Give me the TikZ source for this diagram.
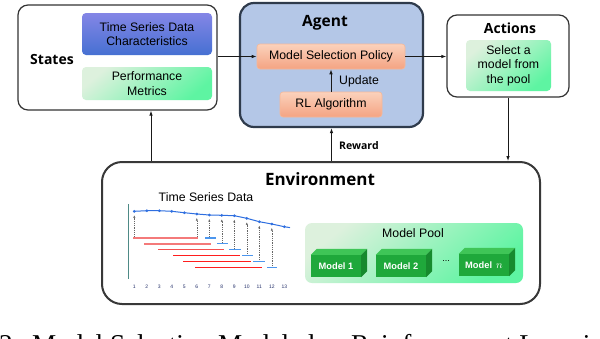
\documentclass[tikz,border=0pt]{standalone}
\usepackage{fontspec}
\setmainfont{Liberation Sans}
\newfontfamily\headfont{Open Sans}
\newfontfamily\capfont{Liberation Serif}
\usetikzlibrary{arrows.meta,calc}
\definecolor{agentfill}{HTML}{B4C7E7}
\definecolor{agentborder}{HTML}{2F3B4C}
\definecolor{tsblueA}{HTML}{8486E6}
\definecolor{tsblueB}{HTML}{4670D2}
\definecolor{grnA}{HTML}{DDF1DD}
\definecolor{grnM}{HTML}{82D890}
\definecolor{grnB}{HTML}{5EF4A2}
\definecolor{orA}{HTML}{FBD2BC}
\definecolor{orB}{HTML}{F4A382}
\definecolor{orD}{HTML}{F6B898}
\definecolor{lineblue}{HTML}{2F6FE0}
\definecolor{barblue}{HTML}{4C96EE}
\definecolor{redA}{HTML}{F47A7A}
\definecolor{redM}{HTML}{F55050}
\definecolor{redB}{HTML}{FF1E1E}
\definecolor{axisc}{HTML}{4E8A86}
\definecolor{numc}{HTML}{24306A}
\definecolor{mfront}{HTML}{1FA83B}
\definecolor{mtop}{HTML}{3FC557}
\definecolor{mside}{HTML}{178A2E}
\tikzset{
  outerbox/.style={draw=black!80, line width=1.2pt, rounded corners=10pt, fill=white, inner sep=0pt},
  agentbox/.style={draw=agentborder, line width=2.2pt, fill=agentfill, rounded corners=14pt, inner sep=0pt},
  envbox/.style={draw=black!78, line width=2pt, rounded corners=20pt, fill=white, inner sep=0pt},
  lbl/.style={font=\fontsize{12.3}{14.5}\selectfont, align=center, inner sep=0pt},
  bluebox/.style={lbl, rounded corners=4pt, top color=tsblueA, bottom color=tsblueB},
  greenbox/.style={lbl, rounded corners=4pt, top color=grnA, middle color=grnM, bottom color=grnB, shading angle=40},
  orangebox/.style={lbl, rounded corners=3pt, top color=orA, bottom color=orB, draw=orD, line width=0.6pt},
  head/.style={font=\headfont\bfseries\fontsize{14}{16}\selectfont, inner sep=0pt},
  arr/.style={line width=0.9pt, draw=black!90, -{Latex[length=5pt,width=3.6pt]}},
  darr/.style={dash pattern=on 1pt off 0.8pt, line width=0.4pt, draw=black!60, -{Latex[length=2.6pt,width=2.2pt]}},
  trainA/.style={draw=redA, line width=1.8pt},
  trainB/.style={draw=redM, line width=1.4pt},
  trainC/.style={draw=redB, line width=1.2pt},
  fcbar/.style={draw=barblue, line width=1.5pt},
  modelfront/.style={fill=mfront, minimum width=50pt, minimum height=22pt, inner sep=0pt, text=white, font=\bfseries\fontsize{9.3}{11}\selectfont},
  numlbl/.style={font=\fontsize{5}{6}\selectfont, text=numc, inner sep=0pt},
  caption/.style={font=\capfont\fontsize{27.2}{30}\selectfont, inner sep=0pt, anchor=base west}
}
\begin{document}
\begin{tikzpicture}[x=1pt,y=-1pt]
\clip (0,0) rectangle (600,338);
\useasboundingbox (0,0) rectangle (600,338);
\fill[white] (0,0) rectangle (600,338);

% States
\node[outerbox, minimum width=199pt, minimum height=105pt] (states) at (117.5,57.5) {};
\node[head] (stlab) at (52,59) {States};
\node[bluebox, minimum width=130pt, minimum height=42pt] (tsdc) at (147,34) {Time Series Data\\Characteristics};
\node[greenbox, minimum width=130pt, minimum height=33pt] (perf) at (147,83.5) {Performance\\Metrics};

% Agent
\node[agentbox, minimum width=183pt, minimum height=124pt] (agent) at (331.5,65) {};
\node[head, font=\headfont\bfseries\fontsize{15.5}{18}\selectfont] (aglab) at (325,23) {Agent};
\node[orangebox, minimum width=148pt, minimum height=25pt] (policy) at (331,56.5) {Model Selection Policy};
\node[orangebox, minimum width=102pt, minimum height=25pt] (rl) at (331,104.5) {RL Algorithm};
\node[lbl, anchor=west] (upd) at (339,81) {Update};

% Actions
\node[outerbox, minimum width=122pt, minimum height=82pt] (actions) at (508,56) {};
\node[head] (aclab) at (510,28) {Actions};
\node[greenbox, minimum width=85pt, minimum height=51pt] (select) at (508.5,65.5) {Select a\\model from\\the pool};

% Environment
\node[envbox, minimum width=438pt, minimum height=142pt] (env) at (321,233) {};
\node[head, font=\headfont\bfseries\fontsize{17}{20}\selectfont] (envlab) at (320,179) {Environment};
\node[lbl] (tsdlab) at (206,197) {Time Series Data};

% connectors
\draw[arr] (states.east |- policy.west) -- (policy.west);
\draw[arr] (policy.east) -- (actions.west |- policy.east);
\draw[arr] (rl.north) -- (policy.south);
\draw[arr] (actions.south) -- (actions.south |- env.north);
\draw[arr] (agent.south |- env.north) -- (agent.south);
\node[head, font=\headfont\bfseries\fontsize{10.5}{13}\selectfont, anchor=west] (rew) at (339,146) {Reward};
\coordinate (sx) at (151,0);
\draw[arr] (sx |- env.north) -- (sx |- states.south);

% chart
\draw[axisc, line width=1pt] (128,204) -- (128,279);
\foreach \i/\yy in {1/211.3,2/210.7,3/210.7,4/211.3,5/212.7,6/214,7/215,8/215.3,9/215.7,10/218.3,11/221.7,12/224,13/226.7}
  \coordinate (p\i) at ({134.3+12.5*(\i-1)},\yy);
\coordinate (pend) at (290,227.6);
% dashed arrows
\foreach \i/\ys in {1/236.5, 6/236.5, 7/236.5, 8/242.5, 9/248.5, 10/254, 11/260, 12/266}
  \draw[darr] (p\i |- 0,\ys) -- ($(p\i)+(0,4)$);
% training windows
\draw[trainA] (133,238) -- (198,238);
\draw[trainA] (144,243.7) -- (211,243.7);
\draw[trainB] (158,249.5) -- (224,249.5);
\draw[trainC] (173,255.3) -- (240,255.3);
\draw[trainC] (183,261.3) -- (251,261.3);
\draw[trainC] (195,267.3) -- (262,267.3);
% forecast bars
\draw[fcbar] (205,238) -- (216,238);
\draw[fcbar] (217,243.7) -- (228,243.7);
\draw[fcbar] (229,249.5) -- (241,249.5);
\draw[fcbar] (242,255.3) -- (253,255.3);
\draw[fcbar] (253,261.3) -- (265,261.3);
\draw[fcbar] (267,267.3) -- (277,267.3);
\draw[lineblue, line width=1pt] (p1) -- (p2) -- (p3) -- (p4) -- (p5) -- (p6) -- (p7) -- (p8) -- (p9) -- (p10) -- (p11) -- (p12) -- (p13) -- (pend);
\foreach \i in {1,...,13} \fill[lineblue] (p\i) circle (1.5pt);
\foreach \i in {1,...,13}
  \node[numlbl] (n\i) at ({134.3+12.5*(\i-1)},286.7) {\i};

% Model pool
\node[greenbox, rounded corners=7pt, minimum width=218pt, minimum height=60pt] (pool) at (414,253) {};
\node[lbl] (poollab) at (413,233.5) {Model Pool};
\foreach \n/\x/\y/\t in {m1/336/266/Model 1, m2/401/266/Model 2, mn/484/265/{Model \,{\fontsize{11}{11}\selectfont$n$}}} {
  \node[modelfront] (\n) at (\x,\y) {\t};
  \fill[mtop] (\n.north west) -- ++(6,-6) -- ([shift={(6,-6)}]\n.north east) -- (\n.north east) -- cycle;
  \fill[mside] (\n.north east) -- ++(6,-6) -- ([shift={(6,-6)}]\n.south east) -- (\n.south east) -- cycle;
}
\node[lbl, font=\fontsize{9}{10}\selectfont] (dots) at (446,261) {...};

% caption (cut by the frame)
\node[caption] (cap1) at (-1,353) {2:};
\node[caption] (cap2) at (32,353) {Model Selection Modeled as Reinforcement Learning};
\end{tikzpicture}
\end{document}
